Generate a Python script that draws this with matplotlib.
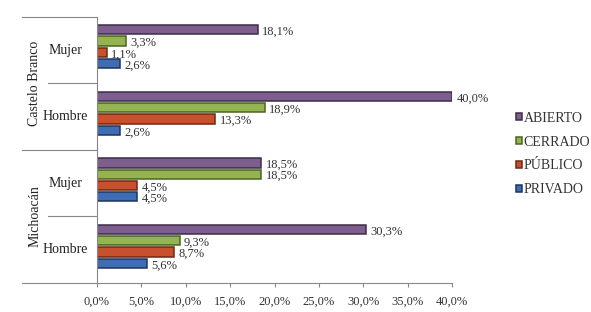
import numpy as np
import matplotlib.pyplot as plt
from matplotlib.lines import Line2D

plt.rcParams['font.family'] = ['Liberation Serif', 'DejaVu Serif']

# data (top to bottom in the chart)
states = ['Castelo Branco', 'Michoacán']
groups = ['Mujer', 'Hombre', 'Mujer', 'Hombre']
series = ['ABIERTO', 'CERRADO', 'PÚBLICO', 'PRIVADO']
abierto = [18.1, 40.0, 18.5, 30.3]
cerrado = [3.3, 18.9, 18.5, 9.3]
publico = [1.1, 13.3, 4.5, 8.7]
privado = [2.6, 2.6, 4.5, 5.6]
ticks = [0, 5, 10, 15, 20, 25, 30, 35, 40]

colors = ['#7d5e8e', '#93b450', '#c9502c', '#3f6db4']
edges = ['#3f2c4a', '#4c6424', '#6e2812', '#1c3660']

fig = plt.figure(figsize=(5.91, 3.12), dpi=100)
ax = fig.add_axes([0.164, 0.093, 0.601, 0.853])

values = [abierto, cerrado, publico, privado]
ypos = np.arange(len(groups))[::-1].astype(float)
step = 0.17
h = 0.14
for k, (vals, name) in enumerate(zip(values, series)):
    yy = ypos + 0.05 + (1.5 - k) * step
    ax.barh(yy, vals, height=h, color=colors[k], edgecolor=edges[k],
            linewidth=1.1, label=name)
    for y, v in zip(yy, vals):
        ax.text(v + 0.5, y - 0.03, f'{v:.1f}%'.replace('.', ','),
                va='center', ha='left', fontsize=9, color='#333333')

ax.set_xlim(0, 40)
ax.set_ylim(-0.5, 3.5)
ax.set_xticks(ticks)
ax.set_xticklabels([f'{t:.1f}%'.replace('.', ',') for t in ticks],
                   fontsize=9, color='#333333')
ax.set_yticks([])
ax.tick_params(axis='x', length=3, color='#888888', pad=6)
for s in ['top', 'right']:
    ax.spines[s].set_visible(False)
ax.spines['bottom'].set_color('#888888')
ax.spines['left'].set_color('#888888')

# category labels and separators in the left area
trans = fig.transFigure
x_out = 22 / 591
x_mid = 48 / 591
x_ax = 97 / 591
ybot = 0.093
yh = 0.853
for i in range(5):
    yf = ybot + yh * i / 4
    x0 = x_out if i % 2 == 0 else x_mid
    fig.add_artist(Line2D([x0, x_ax], [yf, yf], transform=trans,
                          color='#888888', lw=0.8))
for i, g in enumerate(groups):
    yf = ybot + yh * (3.5 - i) / 4
    fig.text(65 / 591, yf, g, ha='center', va='center', fontsize=10,
             color='#222222')
for i, s in enumerate(states):
    yf = ybot + yh * (3 - 2 * i) / 4
    fig.text(35 / 591, yf, s, ha='center', va='center', fontsize=10,
             rotation=90, color='#222222')

leg = fig.legend(loc='center left', bbox_to_anchor=(509 / 591, 1 - 154 / 312),
                 frameon=False, borderpad=0, fontsize=10,
                 handlelength=0.4, handleheight=0.4,
                 handletextpad=0.15, labelspacing=0.78)
for t in leg.get_texts():
    t.set_color('#333333')

fig.savefig('out.png', dpi=100)
